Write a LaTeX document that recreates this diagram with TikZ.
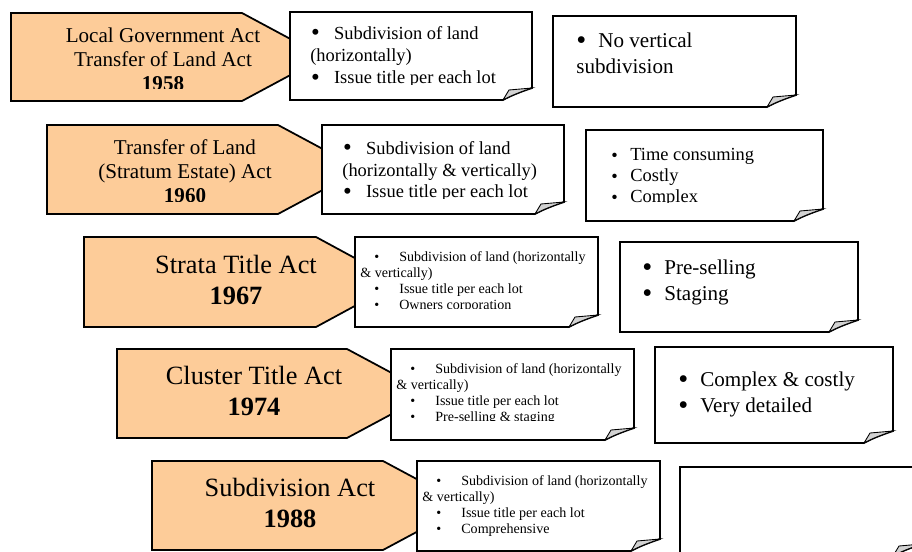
\documentclass[tikz,border=0pt]{standalone}
\usepackage{fontspec}
\setmainfont{Liberation Serif}
\usepackage{graphicx}
\usepackage{tikz}

\definecolor{actorange}{RGB}{253,204,153}
\tikzset{
  actbox/.style={line width=1pt, fill=actorange},
  notebox/.style={line width=1pt, fill=white},
  foldcorner/.style={line width=0.5pt, fill=gray!35},
  acttext/.style={inner sep=0pt, align=center, anchor=north, font=\fontsize{12}{13.6}\selectfont},
  actbig/.style={acttext, font=\fontsize{15}{17.6}\selectfont},
  notetext/.style={inner sep=0pt, align=left, anchor=north west},
  smalltext/.style={notetext, font=\fontsize{8}{9}\selectfont},
}
\newcommand{\curlnote}[4]{%
  \draw[notebox] (#1,#2) -- (#3,#2) -- (#3,{#4-12}) .. controls ({#3-12},{#4-8}) and ({#3-22},{#4-4}) .. ({#3-29},#4) -- (#1,#4) -- cycle;
  \draw[foldcorner] ({#3-29},#4) -- ({#3-23},{#4-10}) -- (#3,{#4-12}) .. controls ({#3-12},{#4-8}) and ({#3-22},{#4-4}) .. ({#3-29},#4) -- cycle;}
\newcommand{\itm}[3][1.35]{\hspace*{#2pt}\makebox[#3pt][l]{\raisebox{-0.08em}{\scalebox{#1}{\textbullet}}}}
\newcommand{\smitm}{\hspace*{8pt}\makebox[14.2pt][l]{\textbullet}}

\begin{document}
\begin{tikzpicture}[x=0.02cm, y=-0.02cm]
        \useasboundingbox (0,0) rectangle (912,551);
        \clip (0,0) rectangle (912,551);

        \draw [actbox] (11,13) -- (242,13) -- (324,57) -- (242,101) -- (11,101) -- cycle;     %1958
        \begin{scope} \clip (11,13) rectangle (330,88);
        \node [acttext] (act1958) at (163,27.5) {Local Government Act\\Transfer of Land Act\\\textbf{1958}};
        \end{scope}
        \curlnote{290}{12}{532}{100}                                                             %gains
        \begin{scope} \clip (290,12) rectangle (532,84);
        \node [notetext, font=\fontsize{10.5}{12.75}\selectfont] (feat1958) at (310,25.7)
          {\itm{0.5}{13}Subdivision of land\\(horizontally)\\\itm{0.5}{13}Issue title per each lot};
        \end{scope}
        \curlnote{553}{16}{796}{107}                                                             %limits
        \node [notetext, font=\fontsize{12}{14.7}\selectfont] (flaw1958) at (576,32.7)
          {\itm{0}{12.5}No vertical\\subdivision};

        \draw [actbox] (47,125) -- (278,125) -- (361,169.5) -- (278,214) -- (47,214) -- cycle; %1960
        \begin{scope} \clip (47,125) rectangle (365,201);
        \node [acttext] (act1960) at (185,139.7) {Transfer of Land\\(Stratum Estate) Act\\\textbf{1960}};
        \end{scope}
        \curlnote{322}{125}{564}{214}
        \begin{scope} \clip (322,125) rectangle (564,198);
        \node [notetext, font=\fontsize{10.5}{12.5}\selectfont] (feat1960) at (342,140.7)
          {\itm{0.5}{13}Subdivision of land\\(horizontally \& vertically)\\\itm{0.5}{13}Issue title per each lot};
        \end{scope}
        \curlnote{586}{130}{823}{221}
        \begin{scope} \clip (586,130) rectangle (823,202);
        \node [notetext, font=\fontsize{10.5}{11.9}\selectfont] (flaw1960) at (611,147.7)
          {\itm[1]{0}{10.8}Time consuming\\\itm[1]{0}{10.8}Costly\\\itm[1]{0}{10.8}Complex};
        \end{scope}

        \draw [actbox] (84,237) -- (316,237) -- (399,282) -- (316,327) -- (84,327) -- cycle;    %1967
        \node [actbig] (act1967) at (236,254.7) {Strata Title Act\\\textbf{1967}};
        \curlnote{355}{237}{598}{327}
        \begin{scope} \clip (355,237) rectangle (598,308);
        \node [smalltext] (feat1967) at (360,251)
          {\smitm Subdivision of land (horizontally\\\& vertically)\\[0.5pt]\smitm Issue title per each lot\\\smitm Owners corporation};
        \end{scope}
        \curlnote{620}{242}{858}{332}
        \node [notetext, font=\fontsize{12}{14.7}\selectfont] (flaw1967) at (642,259.7)
          {\itm{0}{12.5}Pre-selling\\\itm{0}{12.5}Staging};

        \draw [actbox] (117,349) -- (347,349) -- (430,393.5) -- (347,438) -- (117,438) -- cycle; %1974
        \node [actbig] (act1974) at (254,365.7) {Cluster Title Act\\\textbf{1974}};
        \curlnote{391}{349}{634}{440}
        \begin{scope} \clip (391,349) rectangle (634,420.5);
        \node [smalltext] (feat1974) at (396,363)
          {\smitm Subdivision of land (horizontally\\\& vertically)\\[0.5pt]\smitm Issue title per each lot\\\smitm Pre-selling \& staging};
        \end{scope}
        \curlnote{655}{347}{893}{443}
        \node [notetext, font=\fontsize{12}{14.7}\selectfont] (flaw1974) at (678,371.7)
          {\itm{0}{12.5}Complex \& costly\\\itm{0}{12.5}Very detailed};

        \draw [actbox] (152,461) -- (383,461) -- (466,505.5) -- (383,550) -- (152,550) -- cycle; %1988
        \node [actbig] (act1988) at (290,477.7) {Subdivision Act\\\textbf{1988}};
        \curlnote{417}{461}{660}{551}
        \node [smalltext] (feat1988) at (422,475)
          {\smitm Subdivision of land (horizontally\\\& vertically)\\[0.5pt]\smitm Issue title per each lot\\\smitm Comprehensive};
        \curlnote{680}{467}{922}{556}                                                            %empty
\end{tikzpicture}
\end{document}
